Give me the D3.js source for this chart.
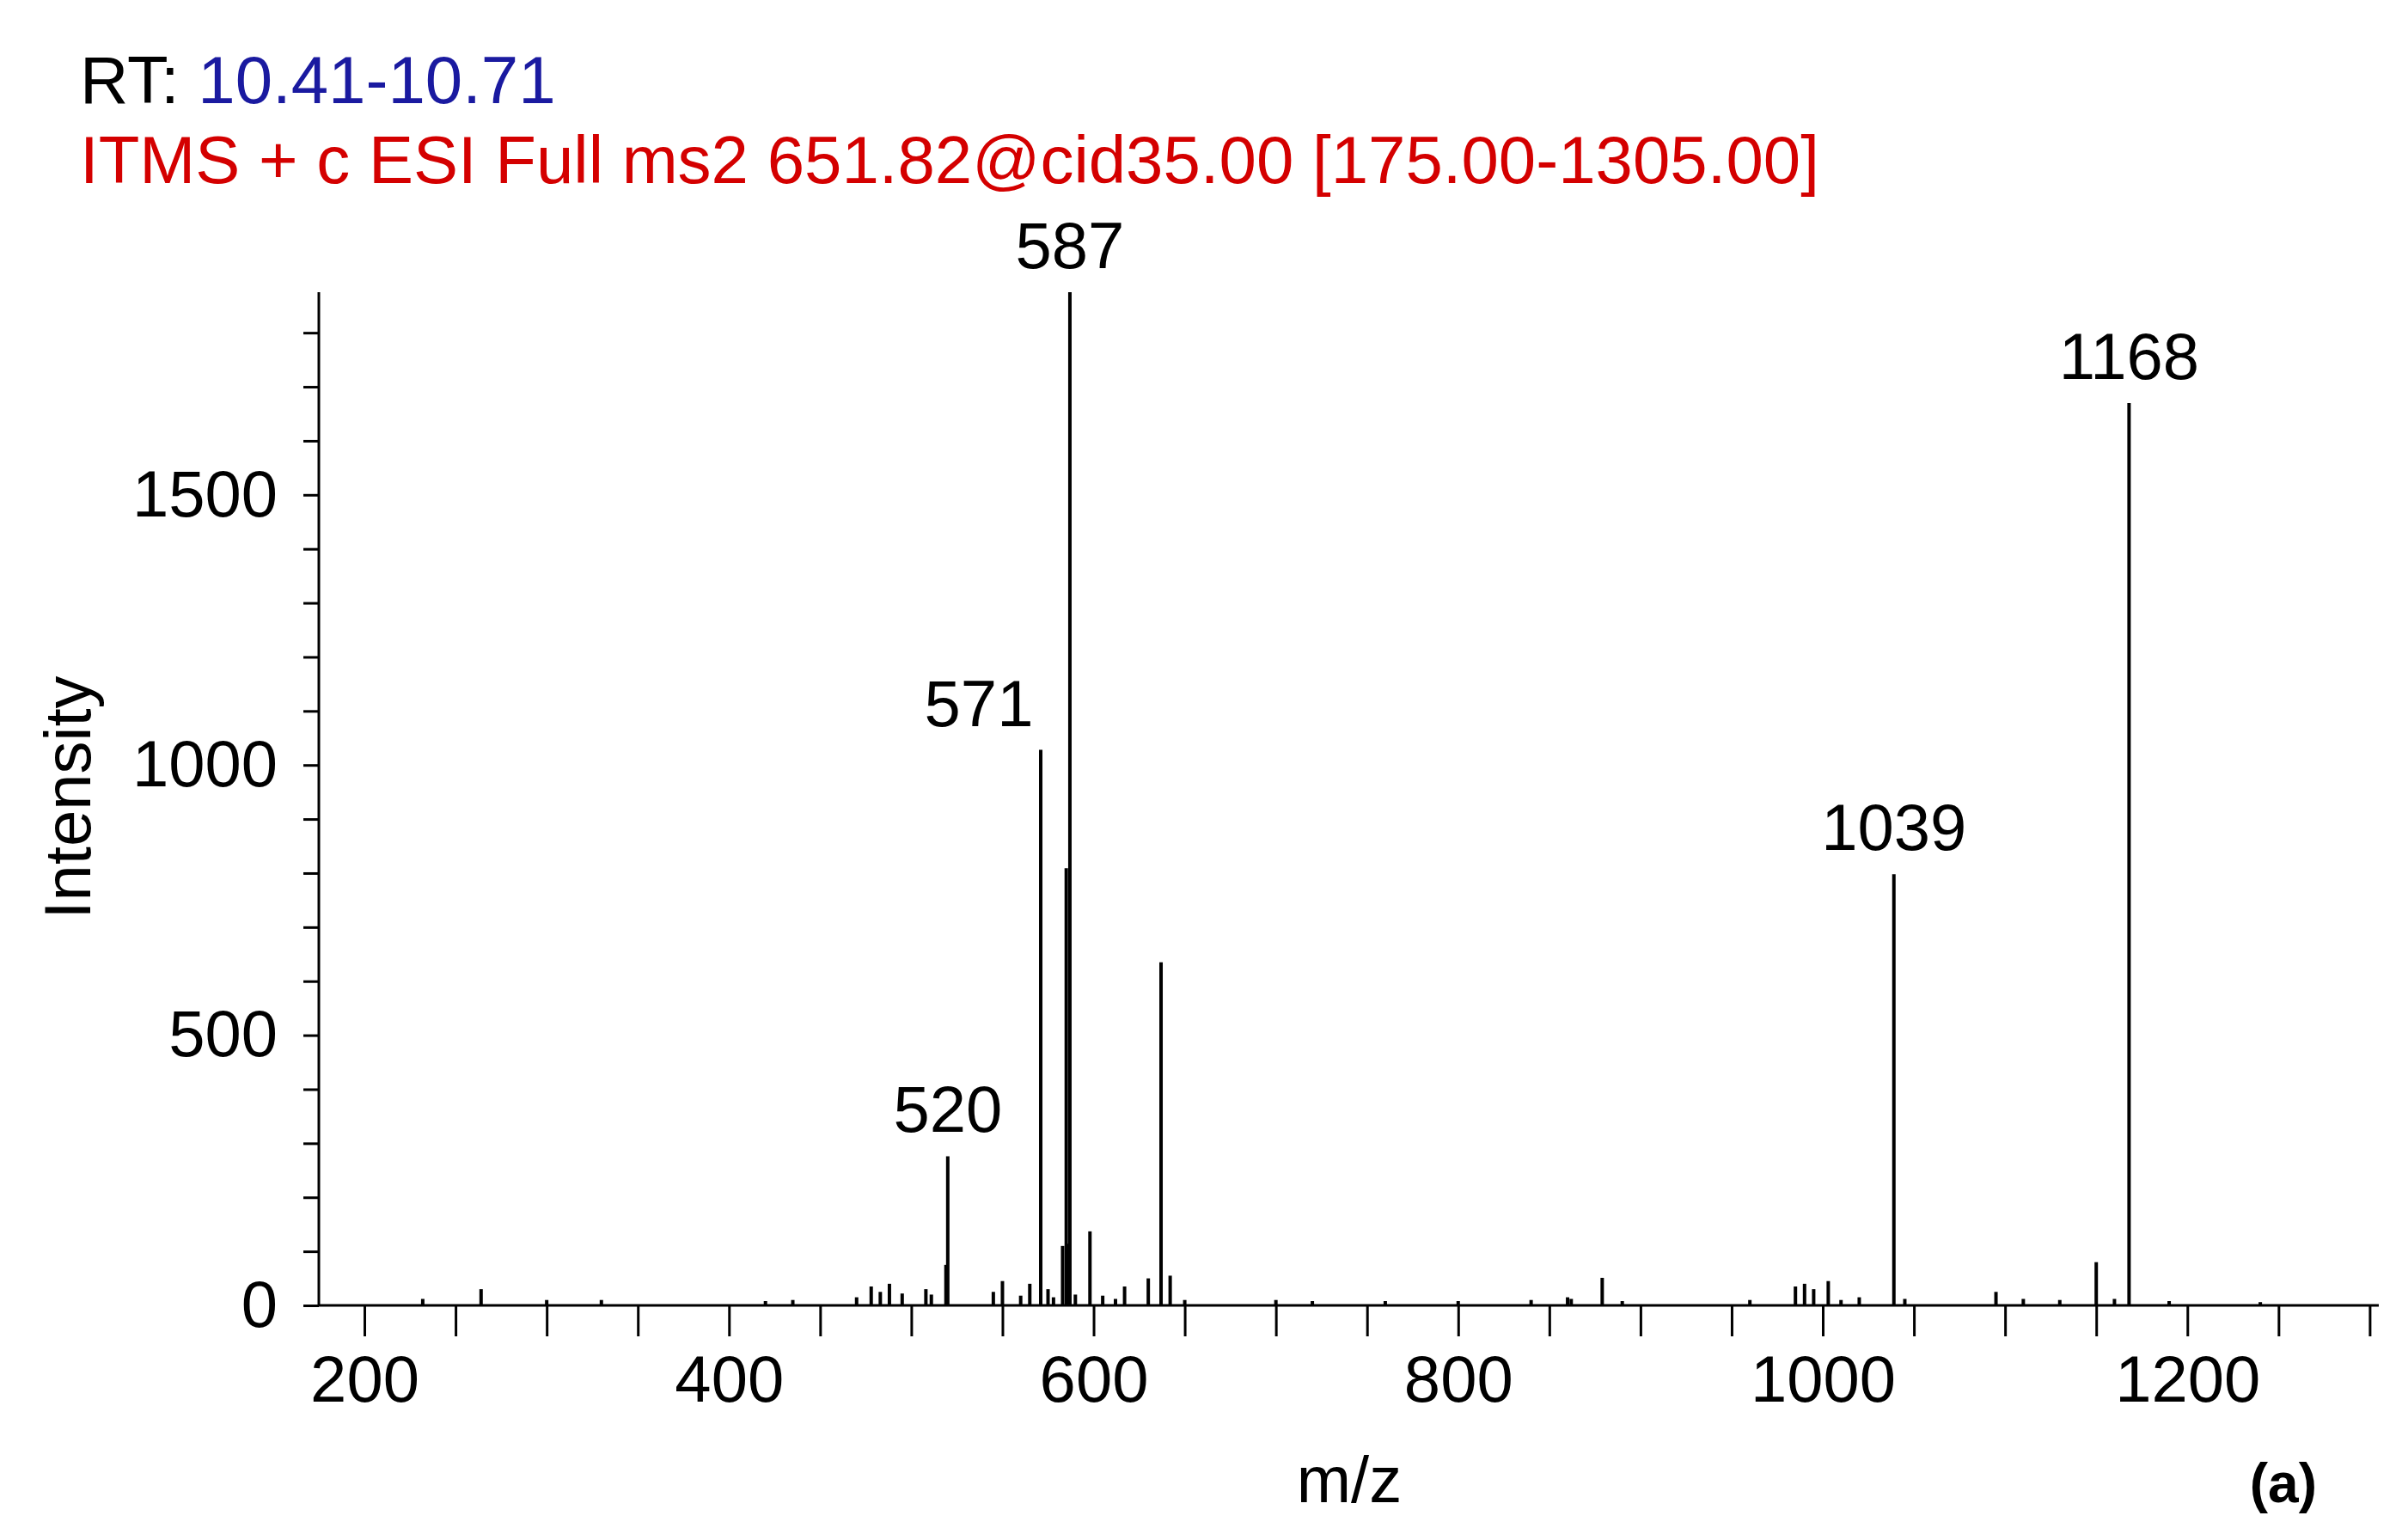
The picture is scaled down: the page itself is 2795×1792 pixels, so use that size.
<!DOCTYPE html>
<html lang="en">
<head>
  <meta charset="UTF-8">
  <title>MS2 spectrum</title>
  <script src="https://d3js.org/d3.v7.min.js"></script>
  <style>
    body { margin: 0; background: #fff; }
    text { font-family: "Liberation Sans", Arial, sans-serif; }
  </style>
</head>
<body>
  <svg width="2795" height="1792"></svg>
  <script>
    // peak positions (m/z) and intensities
    const peakMz = [520, 519, 571, 583, 585, 586, 587, 598, 637, 642, 630, 617, 1039, 1168, 1150, 879,
      264, 232, 300, 330, 420, 435, 470, 478, 483, 488, 495, 508, 511, 545, 550, 560, 565, 575, 578,
      590, 605, 612, 650, 700, 720, 760, 800, 840, 860, 862, 890, 960, 985, 990, 995, 1003, 1010, 1020,
      1045, 1095, 1110, 1130, 1160, 1190, 1240];
    const peakInt = [276, 75, 1028, 110, 809, 114, 1875, 137, 635, 55, 50, 35, 798, 1670, 80, 51,
      30, 12, 10, 10, 8, 10, 15, 35, 25, 40, 22, 30, 20, 25, 45, 18, 40, 30, 15,
      20, 18, 12, 10, 10, 8, 8, 8, 10, 15, 12, 8, 10, 35, 40, 30, 45, 10, 15,
      12, 25, 12, 10, 12, 8, 6];
    const labelMz = [520, 571, 587, 1039, 1168];
    const yTicks = [0, 500, 1000, 1500];
    const xTicks = [200, 400, 600, 800, 1000, 1200];

    const svg = d3.select("svg");
    const mLeft = 371, mRight = 2768, mTop = 340, mBottom = 1519;

    const x = d3.scaleLinear().domain([175, 1305]).range([mLeft, mRight]);
    const y = d3.scaleLinear().domain([0, 1875]).range([mBottom, mTop]);

    // titles
    const t1 = svg.append("text").attr("x", 93).attr("y", 120).attr("font-size", 78);
    t1.append("tspan").attr("fill", "#000").text("RT: ");
    t1.append("tspan").attr("fill", "#1a1aa0").text("10.41-10.71");
    svg.append("text").attr("x", 93).attr("y", 213).attr("font-size", 78).attr("fill", "#d40000")
      .text("ITMS + c ESI Full ms2 651.82@cid35.00 [175.00-1305.00]");

    // y axis
    const yAxis = d3.axisLeft(y).tickValues(d3.range(0, 1801, 100)).tickSize(18)
      .tickFormat(d => yTicks.includes(d) ? d : "");
    const gy = svg.append("g").attr("transform", `translate(${mLeft},0)`).call(yAxis);
    gy.select(".domain").attr("d", `M0,${mBottom}V${mTop}`).attr("stroke-width", 3);
    gy.selectAll(".tick line").attr("stroke-width", 3);
    gy.selectAll(".tick text").attr("font-size", 76).attr("x", -48).attr("fill", "#000")
      .style("font-family", "Liberation Sans, Arial, sans-serif");

    // x axis
    const xAxis = d3.axisBottom(x).tickValues(d3.range(200, 1301, 50)).tickSize(36)
      .tickFormat(d => xTicks.includes(d) ? d : "");
    const gx = svg.append("g").attr("transform", `translate(0,${mBottom})`).call(xAxis);
    gx.select(".domain").attr("d", `M${mLeft},0H${mRight}`).attr("stroke-width", 3);
    gx.selectAll(".tick line").attr("stroke-width", 3);
    gx.selectAll(".tick text").attr("font-size", 76).attr("y", 58).attr("fill", "#000")
      .style("font-family", "Liberation Sans, Arial, sans-serif");

    // peaks
    svg.selectAll(".peak").data(peakMz).enter().append("line")
      .attr("class", "peak")
      .attr("x1", d => x(d)).attr("x2", d => x(d))
      .attr("y1", y(0)).attr("y2", (d, i) => y(peakInt[i]))
      .attr("stroke", "#000").attr("stroke-width", 4);

    // peak labels
    const labelDx = { 520: 0, 571: -72, 587: 0, 1039: 0, 1168: 0 };
    svg.selectAll(".plabel").data(labelMz).enter().append("text")
      .attr("x", d => x(d) + labelDx[d])
      .attr("y", d => y(peakInt[peakMz.indexOf(d)]) - 28)
      .attr("text-anchor", "middle")
      .attr("font-size", 76).text(d => d);

    // axis labels
    svg.append("text").attr("x", 1570).attr("y", 1748).attr("text-anchor", "middle")
      .attr("font-size", 76).text("m/z");
    svg.append("text").attr("transform", "translate(105,928) rotate(-90)").attr("text-anchor", "middle")
      .attr("font-size", 76).text("Intensity");
    svg.append("text").attr("x", 2696).attr("y", 1748).attr("text-anchor", "end")
      .attr("font-size", 64).attr("font-weight", "bold").text("(a)");
  </script>
</body>
</html>
